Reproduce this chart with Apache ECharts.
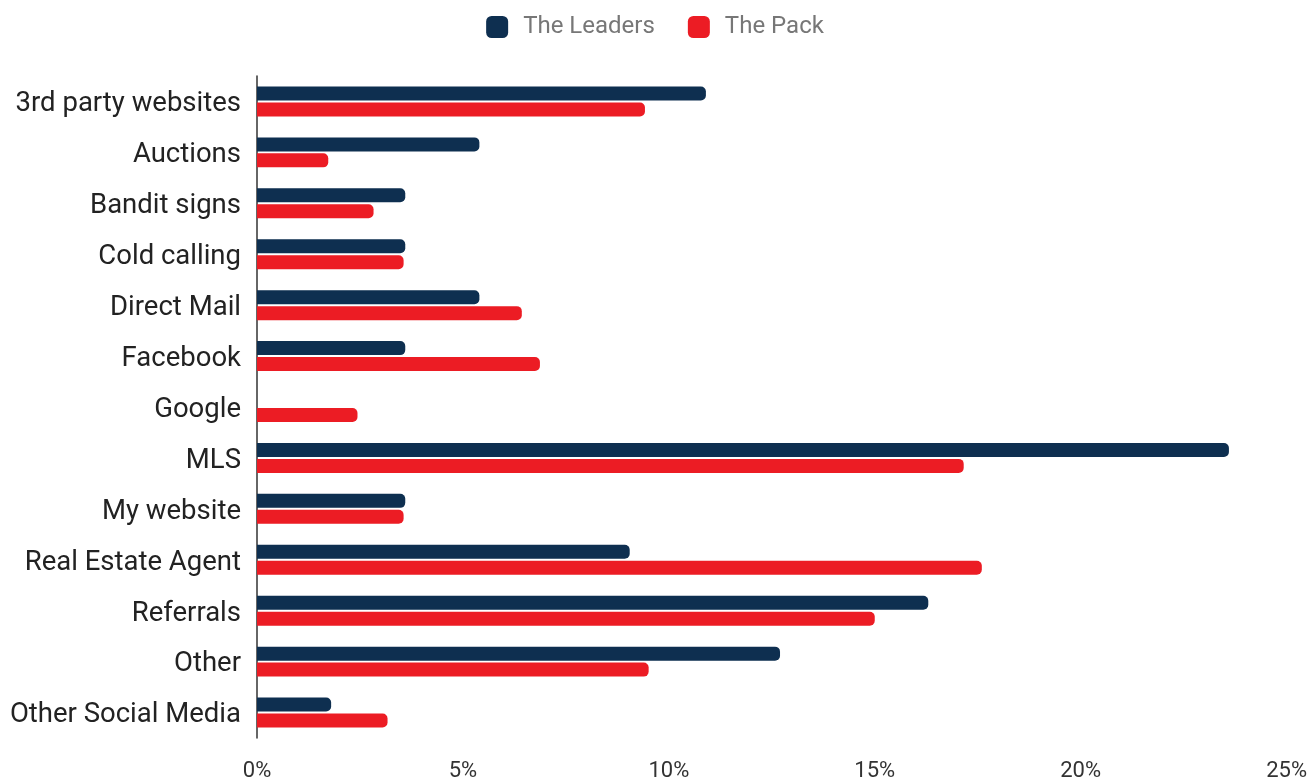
<!DOCTYPE html>
<html>
<head>
<meta charset="utf-8">
<script src="https://cdn.jsdelivr.net/npm/echarts@6/dist/echarts.min.js"></script>
<style>
  html, body { margin: 0; padding: 0; background: #fff; }
  #chart { width: 1310px; height: 783px; }
</style>
</head>
<body>
<div id="chart"></div>
<script>
// Lead sources, listed top to bottom
const categories = [
  '3rd party websites', 'Auctions', 'Bandit signs', 'Cold calling',
  'Direct Mail', 'Facebook', 'Google', 'MLS', 'My website',
  'Real Estate Agent', 'Referrals', 'Other', 'Other Social Media'
];
// Share of deals by source (%)
const leaders = [10.9, 5.4, 3.6, 3.6, 5.4, 3.6, 0, 23.6, 3.6, 9.05, 16.3, 12.7, 1.8];
const pack    = [9.42, 1.73, 2.83, 3.56, 6.43, 6.87, 2.44, 17.16, 3.56, 17.6, 15.0, 9.51, 3.17];
const seriesNames = ['The Leaders', 'The Pack'];
const seriesColors = ['#0e2f50', '#ec1c24'];
const xTicks = { min: 0, max: 25, interval: 5 };

const chart = echarts.init(document.getElementById('chart'), null, { renderer: 'canvas' });
const font = 'Roboto, "Noto Sans", sans-serif';

chart.setOption({
  backgroundColor: '#ffffff',
  animation: false,
  textStyle: { fontFamily: font },
  legend: {
    top: 10,
    left: 'center',
    itemWidth: 22,
    itemHeight: 22,
    itemGap: 33,
    icon: 'roundRect',
    textStyle: { fontSize: 24, color: '#777777', fontFamily: font, padding: [0, 0, 0, 10] },
    data: seriesNames
  },
  grid: { left: 257, right: 20, top: 76, bottom: 45, containLabel: false },
  xAxis: {
    type: 'value',
    min: xTicks.min,
    max: xTicks.max,
    interval: xTicks.interval,
    axisLine: { show: false },
    axisTick: { show: false },
    splitLine: { show: false },
    axisLabel: {
      formatter: v => v + '%',
      fontSize: 22,
      color: '#333333',
      margin: 22,
      fontFamily: font
    }
  },
  yAxis: {
    type: 'category',
    inverse: true,
    data: categories,
    axisLine: { show: true, lineStyle: { color: '#333333', width: 1.5 } },
    axisTick: { show: false },
    axisLabel: {
      margin: 16,
      formatter: v => '{name|' + v + '}',
      rich: {
        name: {
          fontSize: 27.5,
          color: '#222222',
          fontFamily: font,
          padding: [6, 0, 0, 0]
        }
      }
    }
  },
  series: [
    {
      name: seriesNames[0],
      type: 'bar',
      data: leaders,
      barWidth: 14,
      barGap: '14%',
      itemStyle: { color: seriesColors[0], borderRadius: [0, 5, 5, 0] }
    },
    {
      name: seriesNames[1],
      type: 'bar',
      data: pack,
      barWidth: 14,
      itemStyle: { color: seriesColors[1], borderRadius: [0, 5, 5, 0] }
    }
  ]
});
</script>
</body>
</html>
